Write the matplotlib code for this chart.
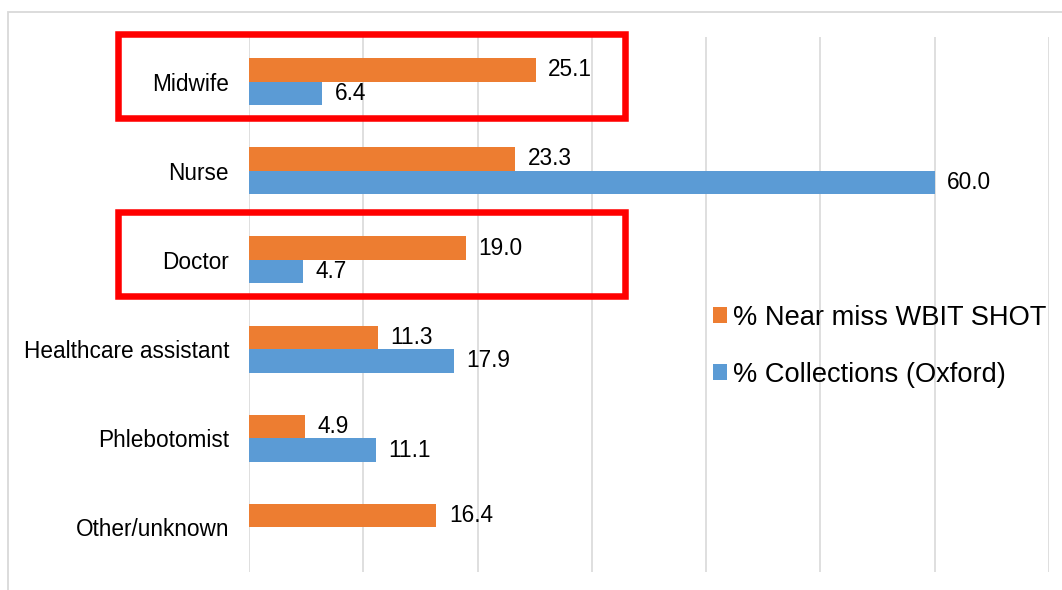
import numpy as np
import matplotlib
matplotlib.use('Agg')
import matplotlib.pyplot as plt
from matplotlib.patches import Rectangle

plt.rcParams['font.family'] = ['Liberation Sans', 'DejaVu Sans']

roles = ['Midwife', 'Nurse', 'Doctor', 'Healthcare assistant', 'Phlebotomist', 'Other/unknown']
near_miss = [25.1, 23.3, 19.0, 11.3, 4.9, 16.4]
collections = [6.4, 60.0, 4.7, 17.9, 11.1, np.nan]
highlight = ['Midwife', 'Doctor']

orange = '#ED7D31'
blue = '#5B9BD5'
grid_grey = '#D9D9D9'

fig = plt.figure(figsize=(10.62, 5.90), dpi=100)
ax = fig.add_axes([249 / 1062, 1 - 572 / 590, 800 / 1062, 535 / 590])

ind = np.arange(len(roles))
h = 0.264

b1 = ax.barh(ind - h / 2, near_miss, h, color=orange, label='% Near miss WBIT SHOT', zorder=3)
b2 = ax.barh(ind + h / 2, np.nan_to_num(collections), h, color=blue,
             label='% Collections (Oxford)', zorder=3)

ax.bar_label(b1, labels=['%.1f' % v for v in near_miss], padding=9, fontsize=16.3)
ax.bar_label(b2, labels=['' if np.isnan(v) else '%.1f' % v for v in collections],
             padding=9, fontsize=16.3)

ax.set_xlim(0, 70)
ax.set_ylim(len(roles) - 0.5, -0.5)
ax.set_xticks(np.arange(0, 71, 10))
ax.set_xticklabels([])
ax.set_yticks(ind)
ax.set_yticklabels(roles, fontsize=16.3)
ax.tick_params(axis='both', length=0)
ax.tick_params(axis='y', pad=14.4)
ax.xaxis.grid(True, color=grid_grey, linewidth=1.2, zorder=0)
ax.set_axisbelow(True)
for s in ax.spines.values():
    s.set_visible(False)

# red boxes around highlighted groups
for name in highlight:
    i = roles.index(name)
    ax.add_patch(Rectangle((-11.5, i - 0.535), 44.4, 0.94, fill=False, edgecolor='#FF0000',
                           linewidth=4.7, clip_on=False, zorder=5))

ax.legend(loc='center left', bbox_to_anchor=(713 / 1062, 1 - 346.5 / 590),
          bbox_transform=fig.transFigure, frameon=False, fontsize=19.6,
          borderaxespad=0, borderpad=0, handlelength=0.515, handleheight=0.515,
          handletextpad=0.22, labelspacing=1.14)

# light frame around the chart area
fig.add_artist(Rectangle((8 / 1062, -0.1), 1.2, 1.1 - 12 / 590, fill=False,
                         edgecolor=grid_grey, linewidth=1.3, transform=fig.transFigure))

fig.savefig('out.png', dpi=100)
